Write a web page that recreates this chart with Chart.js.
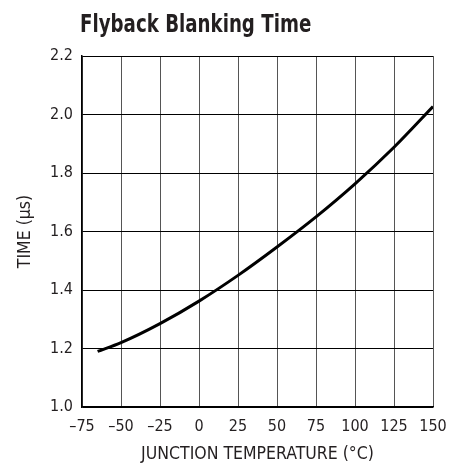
<!DOCTYPE html>
<html>
<head>
<meta charset="utf-8">
<script src="https://cdn.jsdelivr.net/npm/chart.js@4"></script>
<style>
  html, body { margin: 0; padding: 0; background: #fff; }
  #wrap { width: 449px; height: 463px; position: relative; }
</style>
</head>
<body>
<div id="wrap"><canvas id="chart"></canvas></div>
<script>
const temps = [-65, -50, -25, 0, 25, 50, 75, 100, 125, 150];
const times = [1.19, 1.22, 1.285, 1.362, 1.45, 1.547, 1.65, 1.763, 1.888, 2.027];
const xTicks = [-75, -50, -25, 0, 25, 50, 75, 100, 125, 150];
const yTicks = [1.0, 1.2, 1.4, 1.6, 1.8, 2.0, 2.2];

const FONT = '"Liberation Sans Narrow", "DejaVu Sans Condensed", sans-serif';

// title is narrow bold type, squeeze it a bit so it fits like the original
const titleText = {
  id: 'titleText',
  afterDraw(chart) {
    const { ctx } = chart;
    ctx.save();
    ctx.font = 'bold 25px ' + FONT;
    ctx.fillStyle = '#231f20';
    ctx.textBaseline = 'alphabetic';
    ctx.translate(80, 32);
    ctx.scale(0.81, 1);
    ctx.fillText('Flyback Blanking Time', 0, 0);
    ctx.restore();
  },
};

const config = {
  type: 'line',
  data: {
    datasets: [
      {
        label: 'Time',
        data: temps.map((t, i) => ({ x: t, y: times[i] })),
        borderColor: '#000',
        borderWidth: 3,
        pointRadius: 0,
        cubicInterpolationMode: 'monotone',
        fill: false,
      },
    ],
  },
  options: {
    responsive: true,
    maintainAspectRatio: false,
    animation: false,
    layout: { padding: { top: 56, right: 0, left: 0, bottom: 0 } },
    scales: {
      x: {
        type: 'linear',
        min: -75,
        max: 150,
        afterFit: (s) => {
          s.height = 56;
          s.paddingLeft = 0;
          s.paddingRight = 16;
        },
        afterBuildTicks: (s) => { s.ticks = xTicks.map((v) => ({ value: v })); },
        grid: { color: '#555', lineWidth: 1, drawTicks: false },
        border: { color: '#000', width: 1.5 },
        ticks: {
          padding: 10,
          color: '#231f20',
          font: { family: FONT, size: 16 },
          maxRotation: 0,
          callback: (v) => (v < 0 ? '\u2013' + Math.abs(v) : String(v)),
        },
        title: {
          display: true,
          text: 'JUNCTION TEMPERATURE (\u00B0C)',
          color: '#231f20',
          font: { family: FONT, size: 17.5, lineHeight: 1.0 },
          padding: { top: 0, bottom: 0 },
        },
      },
      y: {
        min: 1.0,
        max: 2.2,
        afterFit: (s) => { s.width = 82; },
        afterBuildTicks: (s) => { s.ticks = yTicks.map((v) => ({ value: v })); },
        grid: { color: '#000', lineWidth: 1, drawTicks: false },
        border: { color: '#000', width: 1.5 },
        ticks: {
          padding: 9,
          color: '#231f20',
          font: { family: FONT, size: 16 },
          callback: (v) => v.toFixed(1),
        },
        title: {
          display: true,
          text: 'TIME (\u00B5s)',
          color: '#231f20',
          font: { family: FONT, size: 17.5, lineHeight: 1.0 },
          padding: { top: 17, bottom: 0 },
        },
      },
    },
    plugins: {
      legend: { display: false },
      tooltip: { enabled: false },
      title: { display: false },
    },
  },
  plugins: [titleText],
};

new Chart(document.getElementById('chart'), config);
</script>
</body>
</html>
